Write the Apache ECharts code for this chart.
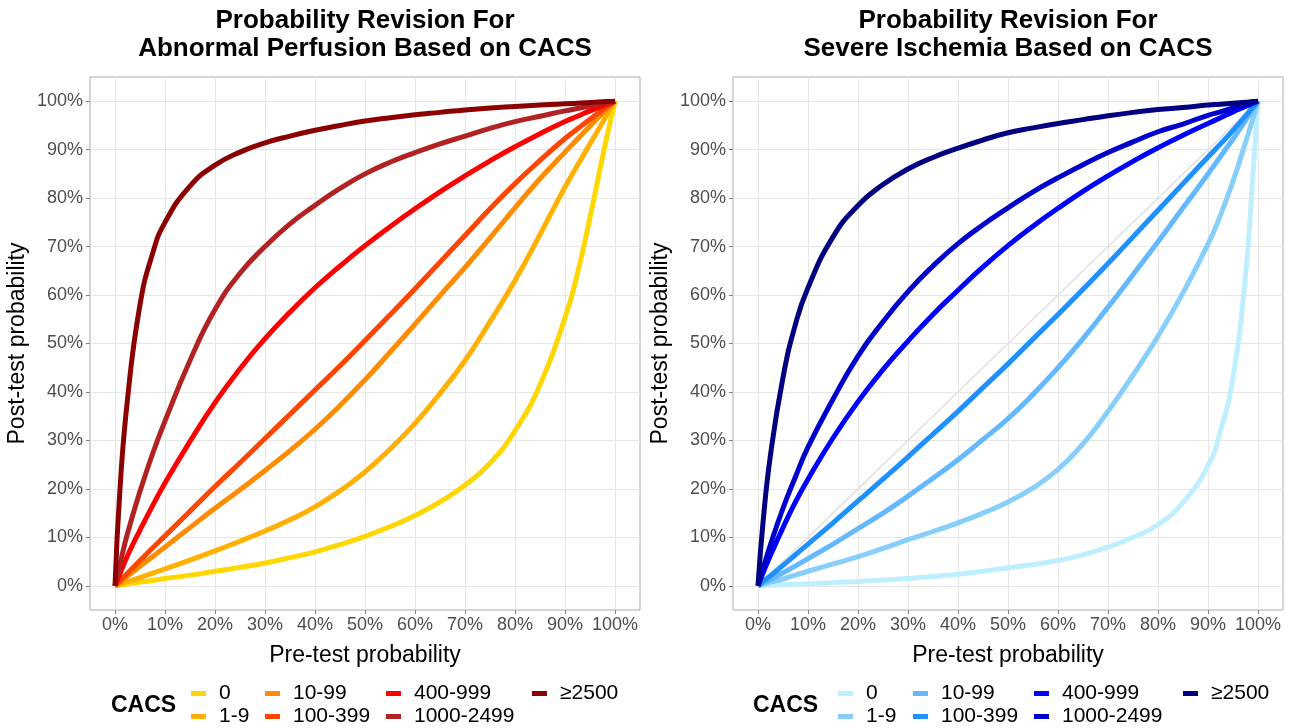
<!DOCTYPE html>
<html>
<head>
<meta charset="utf-8">
<script src="https://cdn.jsdelivr.net/npm/echarts@6/dist/echarts.min.js"></script>
<style>
  html, body { margin: 0; padding: 0; background: #fff; }
  #chart { width: 1291px; height: 728px; }
</style>
</head>
<body>
<div id="chart"></div>
<script>
// Pre-test probability (%) at which each curve is sampled
const preTest = [0, 1, 2.5, 5, 7.5, 10, 15, 20, 25, 30, 35, 40, 45, 50, 55, 60, 65, 70, 75, 80, 85, 90, 92.5, 95, 97.5, 99, 100];

// CACS categories (legend order)
const cacsGroups = ['0', '1-9', '10-99', '100-399', '400-999', '1000-2499', '≥2500'];

// Post-test probability (%) of abnormal perfusion, by CACS group
const perf0         = [0, 0.15, 0.35, 0.75, 1.1, 1.5, 2.2, 3, 3.8, 4.7, 5.8, 7, 8.5, 10.2, 12.2, 14.5, 17.3, 20.8, 25.3, 32, 41.5, 55.3, 64.5, 76, 88.5, 95.5, 100];
const perf1_9       = [0, 0.3, 0.8, 1.7, 2.6, 3.5, 5.3, 7.2, 9.2, 11.3, 13.6, 16.3, 19.6, 23.5, 28.2, 33.5, 39.7, 46.5, 54.5, 63, 72.5, 82.3, 86.8, 91.2, 95.6, 98.3, 100];
const perf10_99     = [0, 0.8, 2, 4, 6, 8, 12, 16, 19.8, 23.8, 27.9, 32.3, 37.2, 42.5, 48.2, 54, 59.9, 65.7, 71.8, 78, 84, 89.5, 92.2, 94.9, 97.5, 99, 100];
const perf100_399   = [0, 1, 2.6, 5.2, 7.8, 10.3, 15.4, 20.5, 25.4, 30.4, 35.4, 40.4, 45.4, 50.6, 55.9, 61.3, 66.8, 72.3, 77.8, 83, 87.8, 92.3, 94.3, 96.3, 98.2, 99.3, 100];
const perf400_999   = [0, 2.5, 6.2, 11.5, 16.5, 21.2, 29.8, 37.8, 44.8, 51, 56.5, 61.5, 66, 70.2, 74.1, 77.8, 81.3, 84.6, 87.7, 90.6, 93.3, 95.8, 96.9, 98, 99.05, 99.62, 100];
const perf1000_2499 = [0, 4.5, 10.8, 19.5, 27.2, 34, 46.5, 57, 64.5, 70, 74.7, 78.5, 82, 85, 87.4, 89.4, 91.2, 92.8, 94.4, 95.8, 96.9, 98, 98.5, 99, 99.5, 99.8, 100];
const perf2500      = [0, 20, 38.5, 58, 68.5, 75, 82.5, 86.8, 89.5, 91.4, 92.8, 94, 95, 95.9, 96.6, 97.2, 97.7, 98.2, 98.6, 98.9, 99.2, 99.5, 99.6, 99.75, 99.9, 99.95, 100];

// Post-test probability (%) of severe ischemia, by CACS group
const isch0         = [0, 0.04, 0.1, 0.2, 0.3, 0.4, 0.65, 0.9, 1.2, 1.5, 1.9, 2.4, 3, 3.7, 4.4, 5.2, 6.4, 8, 10, 12.6, 17.2, 24.8, 32, 43, 64, 85, 100];
const isch1_9       = [0, 0.3, 0.7, 1.4, 2.2, 3, 4.5, 6, 7.7, 9.5, 11.2, 13, 15, 17.3, 20.2, 24, 29.3, 36, 43.5, 51.5, 60.5, 70.5, 76.5, 83.5, 91.5, 96.5, 100];
const isch10_99     = [0, 0.5, 1.3, 2.7, 4.1, 5.6, 8.6, 11.8, 15, 18.5, 22.2, 26, 30.2, 34.5, 39.5, 45, 51, 57.5, 64.2, 71, 78, 85, 88.6, 92.2, 96, 98.4, 100];
const isch100_399   = [0, 0.85, 2.1, 4.2, 6.4, 8.6, 13, 17.5, 22, 26.6, 31.3, 36, 40.9, 45.8, 50.9, 56, 61.2, 66.5, 72, 77.5, 83, 88.5, 91.2, 94, 97, 98.8, 100];
const isch400_999   = [0, 2.6, 6.3, 12, 17.3, 22, 30.5, 38, 44.6, 50.5, 56, 61, 65.8, 70.2, 74.2, 77.9, 81.4, 84.6, 87.6, 90.4, 93, 95.4, 96.6, 97.8, 98.9, 99.6, 100];
const isch1000_2499 = [0, 3.5, 8.5, 16, 22.5, 28.6, 38.5, 47.4, 54.5, 60.7, 66, 70.6, 74.5, 78, 81.3, 84.2, 86.9, 89.4, 91.6, 93.7, 95.3, 97.1, 97.8, 98.6, 99.3, 99.7, 100];
const isch2500      = [0, 13, 27, 43, 54, 61.5, 72, 78.5, 82.8, 86, 88.4, 90.3, 92, 93.5, 94.5, 95.4, 96.2, 97, 97.7, 98.3, 98.7, 99.2, 99.4, 99.6, 99.8, 99.93, 100];

// Identity line (no revision) shown in the ischemia panel
const refX = [0, 100];
const refY = [0, 100];

// Axis tick values (%)
const tickValues = [0, 10, 20, 30, 40, 50, 60, 70, 80, 90, 100];

const perfusionSets = [perf0, perf1_9, perf10_99, perf100_399, perf400_999, perf1000_2499, perf2500];
const ischemiaSets  = [isch0, isch1_9, isch10_99, isch100_399, isch400_999, isch1000_2499, isch2500];

const warmColors = ['#FFD700', '#FFB000', '#FF8C00', '#FF4500', '#FF0000', '#B22222', '#8B0000'];
const blueColors = ['#BFEFFF', '#87CEFA', '#63B8FF', '#1E90FF', '#0000FF', '#0000CD', '#000080'];

const FONT = '"Liberation Sans", Arial, sans-serif';

function pairs(xs, ys) { return xs.map((x, i) => [x, ys[i]]); }

function makeAxes(gridIndex) {
  const x = {
    type: 'value', gridIndex, min: -5, max: 105,
    name: 'Pre-test probability', nameLocation: 'middle', nameGap: 34,
    nameTextStyle: { fontFamily: FONT, fontSize: 23, color: '#000' },
    axisLine: { show: false, onZero: false },
    axisTick: { show: true, length: 4, customValues: tickValues, lineStyle: { color: '#7f7f7f', width: 1 } },
    axisLabel: { customValues: tickValues, formatter: v => v + '%', fontFamily: FONT, fontSize: 18, color: '#4d4d4d', margin: 6 },
    splitLine: { show: true, lineStyle: { color: '#e6e6e6', width: 1 } }
  };
  const y = {
    type: 'value', gridIndex, min: -5, max: 105,
    name: 'Post-test probability', nameLocation: 'middle', nameGap: 61, nameRotate: 90,
    nameTextStyle: { fontFamily: FONT, fontSize: 23, color: '#000' },
    axisLine: { show: false, onZero: false },
    axisTick: { show: true, length: 4, customValues: tickValues, lineStyle: { color: '#7f7f7f', width: 1 } },
    axisLabel: { customValues: tickValues, formatter: v => v + '%', fontFamily: FONT, fontSize: 18, color: '#4d4d4d', margin: 7 },
    splitLine: { show: true, lineStyle: { color: '#e6e6e6', width: 1 } }
  };
  return [x, y];
}

const [x0, y0] = makeAxes(0);
const [x1, y1] = makeAxes(1);

const series = [];
// identity reference line, drawn underneath the curves
series.push({
  type: 'line', name: 'identity', xAxisIndex: 1, yAxisIndex: 1,
  data: pairs(refX, refY), showSymbol: false, silent: true,
  lineStyle: { color: '#e0e0e0', width: 1.5 }, z: 1
});
cacsGroups.forEach((g, i) => {
  series.push({
    type: 'line', name: 'P:' + g, xAxisIndex: 0, yAxisIndex: 0,
    data: pairs(preTest, perfusionSets[i]),
    showSymbol: false, smooth: 0.5,
    color: warmColors[i], lineStyle: { width: 5, color: warmColors[i] }, z: 2
  });
  series.push({
    type: 'line', name: 'S:' + g, xAxisIndex: 1, yAxisIndex: 1,
    data: pairs(preTest, ischemiaSets[i]),
    showSymbol: false, smooth: 0.5,
    color: blueColors[i], lineStyle: { width: 5, color: blueColors[i] }, z: 2
  });
});

// legend: 4 columns of up to two entries each, per panel
const colGroups = [[0, 1], [2, 3], [4, 5], [6]];
const leftCols = [191, 265, 386, 532];
const rightCols = [838, 913, 1034, 1183];
const legends = [];
function addLegends(prefix, cols) {
  colGroups.forEach((idx, c) => {
    legends.push({
      orient: 'vertical', left: cols[c], top: 683, padding: 0,
      itemGap: 2, itemWidth: 15, itemHeight: 5, icon: 'rect',
      selectedMode: false,
      data: idx.map(i => prefix + cacsGroups[i]),
      formatter: n => n.slice(2),
      textStyle: { fontFamily: FONT, fontSize: 21, color: '#000', lineHeight: 20, padding: [0, 0, 0, 8] }
    });
  });
}
addLegends('P:', leftCols);
addLegends('S:', rightCols);

const option = {
  animation: false,
  backgroundColor: '#fff',
  textStyle: { fontFamily: FONT },
  title: [
    { text: 'Probability Revision For\nAbnormal Perfusion Based on CACS', left: 365, top: 7, padding: 0, textAlign: 'center',
      textStyle: { fontFamily: FONT, fontSize: 26, fontWeight: 'bold', color: '#000', lineHeight: 28 } },
    { text: 'Probability Revision For\nSevere Ischemia Based on CACS', left: 1008, top: 7, padding: 0, textAlign: 'center',
      textStyle: { fontFamily: FONT, fontSize: 26, fontWeight: 'bold', color: '#000', lineHeight: 28 } }
  ],
  grid: [
    { left: 90, top: 77, width: 550, height: 533, show: true, borderColor: '#ababab', borderWidth: 1, backgroundColor: '#fff' },
    { left: 733, top: 77, width: 550, height: 533, show: true, borderColor: '#ababab', borderWidth: 1, backgroundColor: '#fff' }
  ],
  xAxis: [x0, x1],
  yAxis: [y0, y1],
  legend: legends,
  graphic: [
    { type: 'text', x: 111, y: 706, style: { text: 'CACS', fontFamily: FONT, fontSize: 23, fontWeight: 'bold', fill: '#000', verticalAlign: 'middle' } },
    { type: 'text', x: 753, y: 706, style: { text: 'CACS', fontFamily: FONT, fontSize: 23, fontWeight: 'bold', fill: '#000', verticalAlign: 'middle' } }
  ],
  series
};

const chart = echarts.init(document.getElementById('chart'), null, { renderer: 'canvas' });
chart.setOption(option);
</script>
</body>
</html>
